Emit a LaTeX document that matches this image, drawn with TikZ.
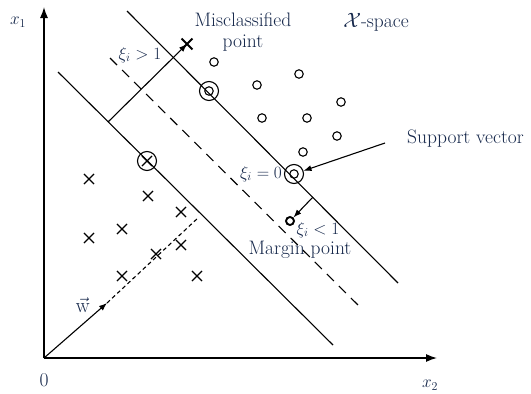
\documentclass[tikz,border=0pt]{standalone}
\usetikzlibrary{arrows.meta,shapes.misc}
\definecolor{txt}{RGB}{22,40,75}
\begin{document}
\begin{tikzpicture}[x=1pt,y=-1pt,
  lbl/.style={text=txt,font=\fontsize{17}{21}\selectfont,inner sep=0pt},
  tlbl/.style={text=txt,font=\fontsize{19.5}{21}\selectfont,inner sep=0pt},
  ln/.style={line width=1.1pt},
  tip/.style={-{Latex[length=8pt,width=6pt]}},
  axis/.style={line width=1.3pt,-{Latex[length=11pt,width=8pt]}},
  pt/.style={circle,draw,line width=1.1pt,inner sep=0pt,minimum size=8.5pt},
  cr/.style={cross out,draw,line width=1.1pt,inner sep=0pt,minimum size=9pt},
  sv/.style={circle,draw,line width=1.1pt,inner sep=0pt,minimum size=19pt},
  mdash/.style={ln,dash pattern=on 10pt off 7pt},
  wdash/.style={ln,dash pattern=on 4pt off 3pt},
]
\useasboundingbox (0,0) rectangle (531,394);
% axes
\coordinate (O) at (44,358);
\coordinate (ytop) at (44,7);
\coordinate (xend) at (437,358);
\draw[axis] (O) -- (ytop);
\draw[axis] (O) -- (xend);
\node[lbl] (x1) at (18,22) {$x_1$};
\node[lbl] (x2) at (430,385) {$x_2$};
\node[tlbl] (zero) at (44,380) {0};
% lines
\coordinate (l1a) at (58,72);   \coordinate (l1b) at (333,345);
\coordinate (l2a) at (127,11);  \coordinate (l2b) at (398,283);
\coordinate (dma) at (110,58);  \coordinate (dmb) at (361,308);
\draw[ln] (l1a) -- (l1b);
\draw[ln] (l2a) -- (l2b);
\draw[mdash] (dma) -- (dmb);
% crosses
\foreach \n/\p in {c1/{(89,179)},c2/{(148,196)},c3/{(181,212)},c4/{(122,229)},c5/{(89,238)},c6/{(181,245)},c7/{(156,254)},c8/{(122,276)},c9/{(197,276)}}
  \node[cr] (\n) at \p {};
% circles
\foreach \n/\p in {o1/{(214,62)},o2/{(257,85)},o3/{(299,74)},o4/{(262,118)},o5/{(307,118)},o6/{(341,102)},o7/{(337,136)},o8/{(303,152)}}
  \node[pt] (\n) at \p {};
% support vectors
\node[sv] (sv1) at (147,161) {};
\node[cr] (sv1c) at (147,161) {};
\node[sv] (sv2) at (209,91) {};
\node[pt] (sv2c) at (209,91) {};
\node[sv] (sv3) at (294,174) {};
\node[pt] (sv3c) at (294,174) {};
% misclassified point
\node[cross out,draw,line width=1.8pt,inner sep=0pt,minimum size=9pt] (mis) at (187,44) {};
\coordinate (m0) at (108,122);
\draw[ln,tip] (m0) -- (mis.center);
% margin point
\node[circle,draw,line width=1.9pt,inner sep=0pt,minimum size=8pt] (mp) at (290,221) {};
\coordinate (g0) at (313,197);
\draw[ln,tip] (g0) -- (mp);
% support vector arrow
\coordinate (s0) at (385,143);
\draw[ln,tip] (s0) -- (sv3);
% w vector
\coordinate (wt) at (107,303);
\coordinate (we) at (199,217);
\draw[ln,tip] (O) -- (wt);
\draw[wdash] (wt) -- (we);
\node[text=txt,font=\fontsize{22}{24}\selectfont,inner sep=0pt] (wl) at (83,305) {$\vec{\mathrm{w}}$};
% labels
\node[tlbl,align=center] (misl) at (243,32) {Misclassified\\point};
\node[tlbl] (xsp) at (376,22) {$\mathcal{X}$-space};
\node[tlbl,anchor=west] (svl) at (407,139) {Support vector};
\node[lbl] (xi1) at (140,55) {$\xi_i>1$};
\node[lbl] (xi0) at (261,174) {$\xi_i=0$};
\node[lbl] (xi2) at (318,230) {$\xi_i<1$};
\node[tlbl] (mpl) at (300,250) {Margin point};
\end{tikzpicture}
\end{document}
